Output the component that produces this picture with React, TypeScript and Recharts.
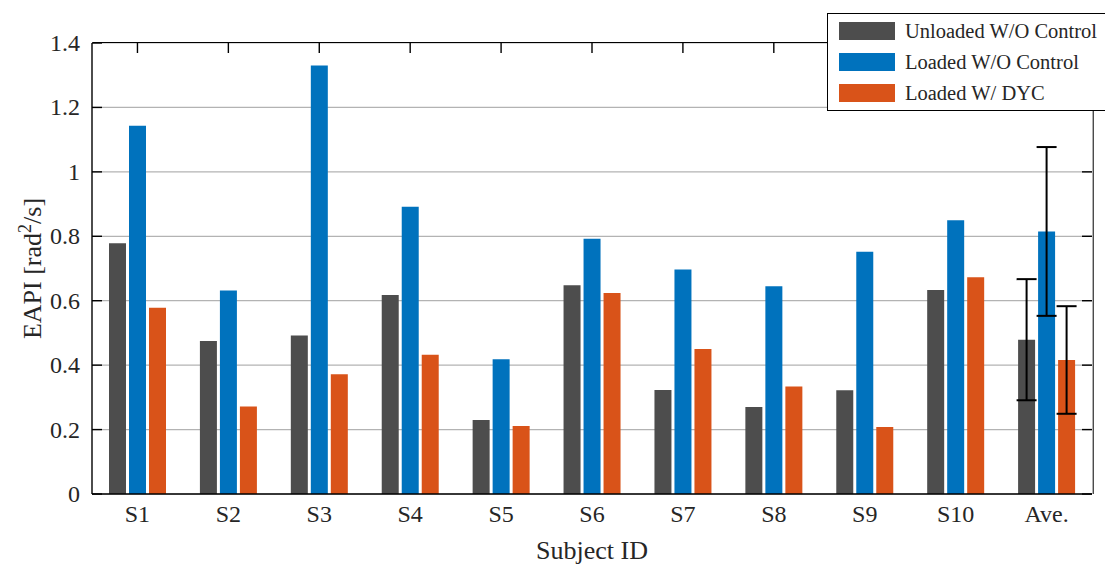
import { Bar, BarChart, CartesianGrid, ErrorBar, XAxis, YAxis } from 'recharts'

const subjects = ['S1', 'S2', 'S3', 'S4', 'S5', 'S6', 'S7', 'S8', 'S9', 'S10', 'Ave.']
const unloadedNoCtrl = [0.778, 0.475, 0.492, 0.618, 0.23, 0.648, 0.323, 0.27, 0.322, 0.633, 0.479]
const loadedNoCtrl = [1.143, 0.632, 1.33, 0.892, 0.418, 0.792, 0.697, 0.645, 0.752, 0.85, 0.815]
const loadedDyc = [0.578, 0.272, 0.372, 0.432, 0.211, 0.624, 0.45, 0.334, 0.208, 0.673, 0.416]
// std only for the average group
const unloadedNoCtrlErr = [null, null, null, null, null, null, null, null, null, null, 0.188]
const loadedNoCtrlErr = [null, null, null, null, null, null, null, null, null, null, 0.262]
const loadedDycErr = [null, null, null, null, null, null, null, null, null, null, 0.167]
const yTicks = [0, 0.2, 0.4, 0.6, 0.8, 1, 1.2, 1.4]

const seriesNames = ['Unloaded W/O Control', 'Loaded W/O Control', 'Loaded W/ DYC']
const colors = ['#4d4d4d', '#0072bd', '#d95319']

const data = subjects.map((name, i) => ({
  name,
  a: unloadedNoCtrl[i],
  b: loadedNoCtrl[i],
  c: loadedDyc[i],
  aErr: unloadedNoCtrlErr[i] ?? 0,
  bErr: loadedNoCtrlErr[i] ?? 0,
  cErr: loadedDycErr[i] ?? 0,
}))

const font = '"Liberation Serif", "Times New Roman", serif'
const ink = '#262626'

// plot box (MATLAB-style frame with inward ticks)
const W = 1105
const H = 565
const M = { top: 43, right: 13, left: 32, bottom: 31 }
const plotLeft = M.left + 60
const plotRight = W - M.right
const plotTop = M.top
const plotBottom = H - M.bottom - 40
const TICK = 10

function leftTick(props: any) {
  const { x, y, payload } = props
  return (
    <g>
      <line x1={plotLeft} x2={plotLeft + TICK} y1={y} y2={y} stroke="#000" strokeWidth={1.4} />
      <line x1={plotRight - TICK} x2={plotRight} y1={y} y2={y} stroke="#000" strokeWidth={1.4} />
      <text x={x} y={y} dy={8} textAnchor="end" fontSize={24} fontFamily={font} fill={ink}>
        {payload.value}
      </text>
    </g>
  )
}

function bottomTick(props: any) {
  const { x, y, payload } = props
  return (
    <g>
      <line x1={x} x2={x} y1={plotTop} y2={plotTop + TICK} stroke="#000" strokeWidth={1.4} />
      <text x={x} y={y} dy={17} textAnchor="middle" fontSize={24} fontFamily={font} fill={ink}>
        {payload.value}
      </text>
    </g>
  )
}

export default function App() {
  return (
    <div style={{ position: 'absolute', left: 0, top: 0, width: W, height: H, background: '#fff' }}>
      <BarChart width={W} height={H} data={data} margin={M} barSize={17} barGap={3}>
        <CartesianGrid horizontal vertical={false} stroke="#b3b3b3" strokeWidth={1.2} />
        <XAxis
          dataKey="name"
          height={40}
          axisLine={{ stroke: '#000', strokeWidth: 1.4 }}
          tickLine={false}
          tickSize={0}
          tickMargin={11}
          tick={bottomTick}
          label={({ viewBox }: any) => (
            <text
              x={viewBox.x + viewBox.width / 2}
              y={viewBox.y + viewBox.height + 25}
              textAnchor="middle"
              fontSize={26}
              fontFamily={font}
              fill={ink}
            >
              Subject ID
            </text>
          )}
        />
        <YAxis
          width={60}
          domain={[0, 1.4]}
          ticks={yTicks}
          tickSize={0}
          tickMargin={12}
          axisLine={{ stroke: '#000', strokeWidth: 1.4 }}
          tickLine={false}
          tick={leftTick}
          label={({ viewBox }: any) => {
            const cx = 41
            const cy = viewBox.y + viewBox.height / 2
            return (
              <text
                x={cx}
                y={cy}
                transform={`rotate(-90 ${cx} ${cy})`}
                textAnchor="middle"
                fontSize={26}
                fontFamily={font}
                fill={ink}
              >
                EAPI [rad
                <tspan dy={-10} fontSize={18}>2</tspan>
                <tspan dy={10}>/s]</tspan>
              </text>
            )
          }}
        />
        <Bar dataKey="a" fill={colors[0]} isAnimationActive={false}>
          <ErrorBar dataKey="aErr" width={10} stroke="#000" strokeWidth={2} direction="y" />
        </Bar>
        <Bar dataKey="b" fill={colors[1]} isAnimationActive={false}>
          <ErrorBar dataKey="bErr" width={10} stroke="#000" strokeWidth={2} direction="y" />
        </Bar>
        <Bar dataKey="c" fill={colors[2]} isAnimationActive={false}>
          <ErrorBar dataKey="cErr" width={10} stroke="#000" strokeWidth={2} direction="y" />
        </Bar>
      </BarChart>
      {/* top and right sides of the axes box */}
      <div
        style={{
          position: 'absolute',
          left: plotLeft,
          top: plotTop - 0.7,
          width: plotRight - plotLeft,
          height: plotBottom - plotTop,
          borderTop: '1.4px solid #000',
          borderRight: '1.4px solid #000',
          pointerEvents: 'none',
          boxSizing: 'content-box',
          marginLeft: 0,
          transform: 'translateX(0.7px)',
        }}
      />
      <div
        style={{
          position: 'absolute',
          left: 827,
          top: 13,
          width: 290,
          height: 98,
          border: '1.5px solid #000',
          background: '#fff',
          fontFamily: font,
          fontSize: 20.5,
          color: ink,
          boxSizing: 'border-box',
        }}
      >
        {seriesNames.map((n, i) => (
          <div key={n} style={{ position: 'absolute', left: 11, top: 5 + i * 31, height: 24, display: 'flex', alignItems: 'center', whiteSpace: 'nowrap' }}>
            <span style={{ display: 'inline-block', width: 56, height: 18, background: colors[i], marginRight: 10 }} />
            <span>{n}</span>
          </div>
        ))}
      </div>
    </div>
  )
}
